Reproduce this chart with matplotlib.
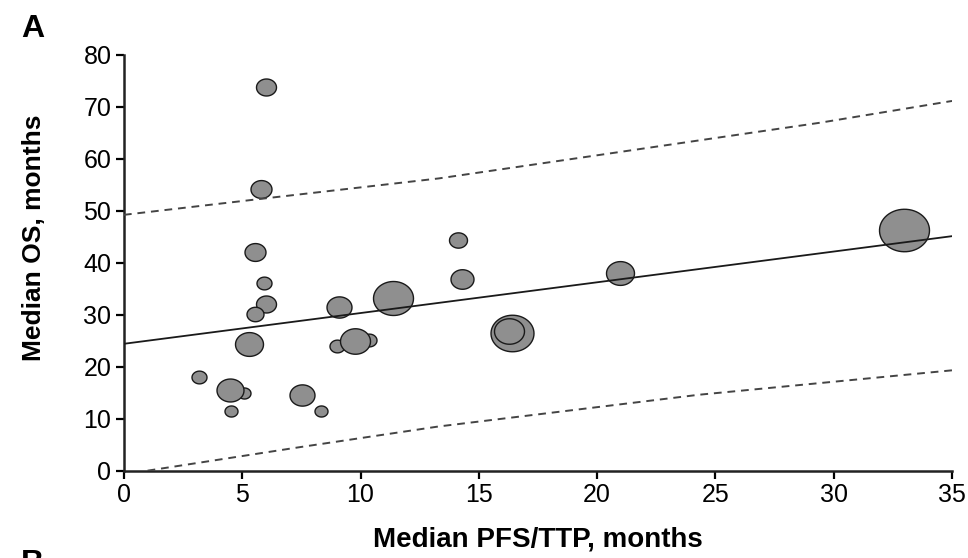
import matplotlib
matplotlib.use("Agg")
import matplotlib.pyplot as plt
import numpy as np
from matplotlib.path import Path

plt.rcParams['font.family'] = ['Liberation Sans', 'DejaVu Sans']

# study points: median PFS/TTP (x), median OS (y), relative study size
pfs = [6.0, 5.8, 5.52, 5.9, 6.0, 5.52, 5.3, 3.18, 5.09, 4.5, 4.53, 7.52, 8.32,
       9.09, 9.01, 10.35, 9.76, 11.36, 14.1, 14.29, 16.4, 16.29, 20.97, 32.95]
os_months = [73.7, 54.1, 42.0, 36.0, 32.0, 30.2, 24.3, 18.0, 14.9, 15.6, 11.4, 14.5, 11.4,
             31.5, 24.0, 25.2, 24.9, 33.2, 44.4, 36.8, 26.5, 26.9, 38.1, 46.2]
study_size = [20, 21, 21, 15, 20, 17, 28, 15, 13, 27, 13, 25, 13,
              25, 15, 15, 30, 40, 18, 23, 43, 30, 28, 50]

# regression line and prediction band
fit_x = [0, 35]
fit_y = [24.4, 45.1]
upper_x = [0, 6.6, 13.3, 29.4, 35]
upper_y = [49.2, 52.7, 56.2, 66.9, 71.1]
lower_x = [1.0, 7.4, 13.3, 24.3, 35]
lower_y = [0.0, 4.5, 8.5, 14.6, 19.3]

x_ticks = [0, 5, 10, 15, 20, 25, 30, 35]
y_ticks = [0, 10, 20, 30, 40, 50, 60, 70, 80]

fig = plt.figure(figsize=(9.68, 5.58), dpi=100)
ax = fig.add_axes([0.128, 0.1565, 0.8555, 0.7455])

# slightly flattened circle, the scan is stretched sideways
t = np.linspace(0, 2 * np.pi, 60)
ellipse = Path(np.column_stack([np.cos(t), 0.85 * np.sin(t)]), closed=True)

for i in range(len(pfs)):
    w = study_size[i] / 1.389
    ax.scatter(pfs[i], os_months[i], s=w ** 2, marker=ellipse,
               facecolor='#8f8f8f', edgecolor='#1a1a1a', linewidth=1.0,
               zorder=2 + i * 0.01, clip_on=False)

ax.plot(fit_x, fit_y, color='#1a1a1a', linewidth=1.3, zorder=3)
ax.plot(upper_x, upper_y, color='#444444', linewidth=1.4, linestyle=(0, (4, 3)), zorder=3)
ax.plot(lower_x, lower_y, color='#444444', linewidth=1.4, linestyle=(0, (4, 3)), zorder=3)

ax.set_xlim(0, 35)
ax.set_ylim(0, 80)
ax.set_xticks(x_ticks)
ax.set_yticks(y_ticks)
ax.tick_params(direction='out', length=6, width=1.6, labelsize=18, pad=3, colors='black')

for side in ['top', 'right']:
    ax.spines[side].set_visible(False)
for side in ['left', 'bottom']:
    ax.spines[side].set_linewidth(1.8)
    ax.spines[side].set_color('#222222')

ax.set_xlabel("Median PFS/TTP, months", fontsize=20, fontweight='bold')
ax.xaxis.set_label_coords(0.5, -0.183)
ax.xaxis.label.set_va('baseline')
ax.set_ylabel("Median OS, months", fontsize=19, fontweight='bold')
ax.yaxis.set_label_coords(-0.109, 0.56)
ax.yaxis.label.set_va('center')

fig.text(0.022, 0.975, "A", fontsize=23, fontweight='bold', va='top', ha='left')
# top edge of the next panel's letter, cut by the crop as in the source
fig.text(0.022, 0.016, "B", fontsize=23, fontweight='bold', va='top', ha='left')

fig.savefig("out.png", dpi=100)
